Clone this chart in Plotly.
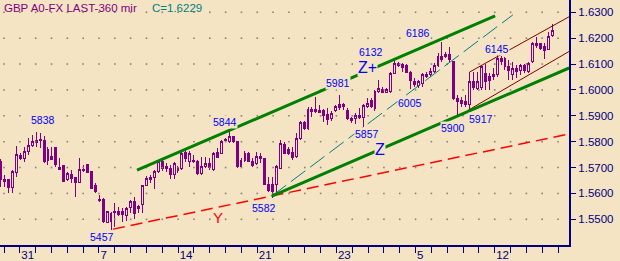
import plotly.graph_objects as go

# ---------------- data ----------------
opens = [1.5723,1.5654,1.5652,1.5624,1.5680,1.5745,1.5736,1.5761,1.5787,1.5796,
         1.5807,1.5806,1.5726,1.5742,1.5778,1.5701,1.5707,1.5652,1.5675,1.5661,
         1.5642,1.5693,1.5710,1.5684,1.5629,1.5577,1.5577,1.5487,1.5523,1.5526,
         1.5530,1.5532,1.5513,1.5546,1.5568,1.5541,1.5559,1.5632,1.5662,1.5662,
         1.5684,1.5723,1.5706,1.5697,1.5675,1.5688,1.5697,1.5757,1.5723,1.5729,
         1.5725,1.5678,1.5703,1.5716,1.5691,1.5759,1.5755,1.5809,1.5800,1.5819,
         1.5800,1.5703,1.5729,1.5755,1.5725,1.5716,1.5742,1.5736,1.5635,1.5633,
         1.5633,1.5697,1.5790,1.5768,1.5759,1.5742,1.5813,1.5875,1.5852,1.5926,
         1.5916,1.5922,1.5919,1.5906,1.5888,1.5922,1.5942,1.5935,1.5922,1.5888,
         1.5888,1.5901,1.5893,1.5935,1.5961,1.5929,1.5993,1.6000,1.5991,1.5993,
         1.6064,1.6103,1.6099,1.6094,1.6068,1.6032,1.6019,1.6026,1.6060,1.6058,
         1.6071,1.6094,1.6129,1.6138,1.6138,1.6109,1.5968,1.5961,1.5955,1.5942,
         1.6032,1.6006,1.6009,1.6064,1.6051,1.6051,1.6058,1.6122,1.6122,1.6090,
         1.6058,1.6084,1.6077,1.6094,1.6071,1.6109,1.6172,1.6180,1.6167,1.6157,
         1.6212]
highs = [1.5732,1.5671,1.5655,1.5691,1.5783,1.5755,1.5781,1.5813,1.5826,1.5838,
         1.5832,1.5822,1.5781,1.5781,1.5781,1.5736,1.5710,1.5684,1.5690,1.5665,
         1.5736,1.5710,1.5714,1.5688,1.5639,1.5594,1.5581,1.5533,1.5527,1.5562,
         1.5546,1.5545,1.5546,1.5575,1.5588,1.5555,1.5632,1.5667,1.5671,1.5690,
         1.5729,1.5732,1.5716,1.5710,1.5723,1.5706,1.5768,1.5770,1.5764,1.5749,
         1.5729,1.5742,1.5742,1.5738,1.5761,1.5774,1.5807,1.5816,1.5844,1.5823,
         1.5803,1.5736,1.5764,1.5759,1.5736,1.5759,1.5755,1.5738,1.5665,1.5665,
         1.5710,1.5807,1.5798,1.5781,1.5781,1.5832,1.5880,1.5880,1.5935,1.5935,
         1.5974,1.5942,1.5926,1.5929,1.5919,1.5942,1.5981,1.5948,1.5929,1.5897,
         1.5910,1.5929,1.5944,1.5968,1.5968,1.6000,1.6038,1.6013,1.6006,1.6071,
         1.6120,1.6109,1.6103,1.6099,1.6073,1.6045,1.6038,1.6064,1.6071,1.6084,
         1.6103,1.6141,1.6186,1.6148,1.6167,1.6112,1.5980,1.5974,1.5980,1.6071,
         1.6071,1.6071,1.6096,1.6099,1.6064,1.6084,1.6135,1.6132,1.6128,1.6116,
         1.6109,1.6096,1.6099,1.6099,1.6109,1.6186,1.6206,1.6183,1.6180,1.6225,
         1.6255]
lows = [1.5624,1.5624,1.5603,1.5603,1.5665,1.5729,1.5723,1.5749,1.5781,1.5781,
        1.5774,1.5716,1.5710,1.5729,1.5703,1.5690,1.5645,1.5648,1.5642,1.5587,
        1.5639,1.5684,1.5678,1.5616,1.5603,1.5568,1.5487,1.5484,1.5457,1.5469,
        1.5513,1.5491,1.5495,1.5523,1.5501,1.5523,1.5523,1.5629,1.5639,1.5616,
        1.5678,1.5688,1.5684,1.5654,1.5654,1.5680,1.5690,1.5723,1.5703,1.5716,
        1.5671,1.5671,1.5697,1.5691,1.5687,1.5736,1.5751,1.5797,1.5794,1.5794,
        1.5700,1.5697,1.5720,1.5720,1.5703,1.5710,1.5716,1.5633,1.5607,1.5582,
        1.5607,1.5694,1.5751,1.5749,1.5729,1.5736,1.5807,1.5845,1.5845,1.5897,
        1.5910,1.5910,1.5875,1.5865,1.5880,1.5916,1.5922,1.5922,1.5884,1.5871,
        1.5867,1.5888,1.5857,1.5929,1.5929,1.5919,1.5987,1.5987,1.5987,1.5987,
        1.6060,1.6090,1.6071,1.6064,1.6005,1.6013,1.6006,1.6013,1.6045,1.6051,
        1.6064,1.6090,1.6109,1.6122,1.6109,1.5961,1.5900,1.5935,1.5935,1.5917,
        1.6000,1.6000,1.6000,1.6000,1.6000,1.6038,1.6051,1.6096,1.6077,1.6038,
        1.6038,1.6045,1.6058,1.6064,1.6064,1.6103,1.6161,1.6154,1.6118,1.6154,
        1.6206]
closes = [1.5652,1.5647,1.5624,1.5684,1.5749,1.5736,1.5761,1.5787,1.5800,1.5806,
          1.5804,1.5725,1.5770,1.5732,1.5710,1.5694,1.5648,1.5678,1.5656,1.5642,
          1.5693,1.5688,1.5682,1.5620,1.5607,1.5571,1.5491,1.5530,1.5491,1.5532,
          1.5519,1.5517,1.5542,1.5568,1.5523,1.5549,1.5629,1.5658,1.5654,1.5684,
          1.5723,1.5697,1.5697,1.5675,1.5714,1.5701,1.5755,1.5736,1.5755,1.5723,
          1.5678,1.5703,1.5716,1.5700,1.5755,1.5740,1.5800,1.5803,1.5819,1.5800,
          1.5703,1.5729,1.5755,1.5723,1.5707,1.5742,1.5736,1.5635,1.5613,1.5607,
          1.5703,1.5794,1.5755,1.5755,1.5738,1.5813,1.5875,1.5852,1.5926,1.5916,
          1.5926,1.5913,1.5901,1.5884,1.5910,1.5935,1.5932,1.5944,1.5890,1.5880,
          1.5901,1.5893,1.5939,1.5948,1.5935,1.5993,1.6006,1.5991,1.6000,1.6064,
          1.6103,1.6094,1.6086,1.6068,1.6038,1.6022,1.6032,1.6058,1.6051,1.6073,
          1.6096,1.6129,1.6116,1.6129,1.6116,1.5968,1.5955,1.5948,1.5942,1.6032,
          1.6009,1.6032,1.6090,1.6032,1.6038,1.6060,1.6122,1.6109,1.6090,1.6077,
          1.6084,1.6073,1.6094,1.6077,1.6103,1.6180,1.6180,1.6161,1.6154,1.6208,
          1.6229]

# trend lines: [start bar, end bar], [start price, end price]
green_upper_k = [34.6, 125.5]
green_upper_p = [1.5690, 1.6286]
green_lower_k = [68.8, 144.3]
green_lower_p = [1.5590, 1.6085]
teal_k = [68.8, 130.0]
teal_p = [1.5590, 1.6290]
red_k = [28.5, 144.3]
red_p = [1.5462, 1.5830]
maroon_up_k = [119.0, 144.3]
maroon_up_p = [1.6069, 1.6283]
maroon_lo_k = [118.5, 144.3]
maroon_lo_p = [1.5920, 1.6149]

price_levels = [1.55, 1.56, 1.57, 1.58, 1.59, 1.60, 1.61, 1.62, 1.63]
day_labels = {1: "31", 6: "7", 11: "14", 16: "21", 21: "23", 26: "5", 31: "12"}
n_days = 36

# ---------------- style ----------------
BG = "#F4E4C4"
PURPLE = "#800080"
NAVY = "#000080"
BLUE = "#0000FF"
FONT = "Liberation Sans, Arial, sans-serif"

W, H = 620, 261
PL, PR, PT, PB = 0, 51, 0, 16
PW, PH = W - PL - PR, H - PT - PB

x_bars = list(range(len(closes)))
tickvals = [0.838 + 4.018 * n for n in range(n_days)]
ticktext = [day_labels.get(n, "") for n in range(n_days)]

fig = go.Figure()

# grid dots at day ticks x price levels
gx = [t for t in tickvals for _ in price_levels]
gy = [lv for _ in tickvals for lv in price_levels]
fig.add_trace(go.Scatter(x=gx, y=gy, mode="markers",
                         marker=dict(symbol="square", size=1.6, color="#858278", line=dict(width=0)),
                         hoverinfo="skip", showlegend=False))

fig.add_trace(go.Candlestick(
    x=x_bars, open=opens, high=highs, low=lows, close=closes,
    increasing=dict(line=dict(color=PURPLE, width=1), fillcolor=BG),
    decreasing=dict(line=dict(color=PURPLE, width=1), fillcolor=PURPLE),
    whiskerwidth=0, hoverinfo="skip", showlegend=False))

def add_line(xs, ys, color, width, dash="solid"):
    fig.add_trace(go.Scatter(x=xs, y=ys, mode="lines",
                             line=dict(color=color, width=width, dash=dash),
                             hoverinfo="skip", showlegend=False))

add_line(red_k, red_p, "#FF0000", 1.5, "12px,6px")
add_line(teal_k, teal_p, "#008080", 1, "18px,6px")
add_line(maroon_up_k, maroon_up_p, "#800000", 1)
add_line(maroon_lo_k, maroon_lo_p, "#800000", 1)
add_line(green_upper_k, green_upper_p, "#008000", 3)
add_line(green_lower_k, green_lower_p, "#008000", 3)

def px2paper(px, py):
    return px / PW, 1 - py / PH

labels = [
    ("5838", 43.3, 119.5, BLUE, 10.5),
    ("5844", 224.5, 121.7, BLUE, 10.5),
    ("5457", 102.3, 237.2, BLUE, 10.5),
    ("5582", 264.3, 207.5, BLUE, 10.5),
    ("5981", 338.3, 83.0, BLUE, 10.5),
    ("6132", 371.0, 52.0, BLUE, 10.5),
    ("Z+", 367.7, 67.5, BLUE, 16),
    ("6186", 418.3, 33.3, BLUE, 10.5),
    ("6145", 496.7, 49.0, BLUE, 10.5),
    ("6005", 410.0, 102.5, BLUE, 10.5),
    ("5857", 366.5, 134.0, BLUE, 10.5),
    ("Z", 379.5, 149.5, BLUE, 16),
    ("5900", 453.3, 127.5, BLUE, 10.5),
    ("5917", 481.0, 119.0, BLUE, 10.5),
    ("Y", 218.0, 217.5, "#FF0000", 15),
]
annotations = []
for txt, px, py, col, sz in labels:
    ax_, ay_ = px2paper(px, py)
    annotations.append(dict(text=txt, x=ax_, y=ay_, xref="paper", yref="paper",
                            xanchor="center", yanchor="middle", showarrow=False,
                            bgcolor=BG, borderpad=0,
                            font=dict(family=FONT, size=sz, color=col)))

tx, ty = px2paper(2, 7.5)
annotations.append(dict(text="GBP A0-FX LAST-360 mir", x=tx, y=ty, xref="paper", yref="paper",
                        xanchor="left", yanchor="middle", showarrow=False,
                        font=dict(family=FONT, size=11.5, color=PURPLE)))
cx, cy = px2paper(150, 7.5)
annotations.append(dict(text="C=1.6229", x=cx, y=cy, xref="paper", yref="paper",
                        xanchor="left", yanchor="middle", showarrow=False,
                        font=dict(family=FONT, size=11.5, color="#008080")))

fig.update_layout(
    width=W, height=H,
    margin=dict(l=PL, r=PR, t=PT, b=PB, pad=0),
    paper_bgcolor=BG, plot_bgcolor=BG,
    showlegend=False,
    annotations=annotations,
    xaxis=dict(range=[-0.18, 144.25], showgrid=False, zeroline=False,
               showline=True, linecolor=NAVY, linewidth=2,
               ticks="outside", ticklen=6, tickwidth=1, tickcolor=NAVY,
               tickvals=tickvals, ticktext=ticktext,
               ticklabelposition="outside right", ticklabelstandoff=-2,
               tickfont=dict(family=FONT, size=11.5, color=NAVY),
               rangeslider=dict(visible=False), automargin=False, fixedrange=True),
    yaxis=dict(range=[1.54007, 1.634754], side="right", showgrid=False, zeroline=False,
               showline=True, linecolor=NAVY, linewidth=2,
               ticks="outside", ticklen=5, tickwidth=1, tickcolor=NAVY,
               tickvals=price_levels, tickformat=".4f",
               tickfont=dict(family=FONT, size=11.5, color=NAVY),
               automargin=False, fixedrange=True),
)

# crisp, non-antialiased candles like the original bitmap chart
post = ("document.querySelectorAll('.boxlayer path').forEach(function(p){"
        "p.style.shapeRendering='crispEdges';});")
fig.write_html("out.html", post_script=post)
